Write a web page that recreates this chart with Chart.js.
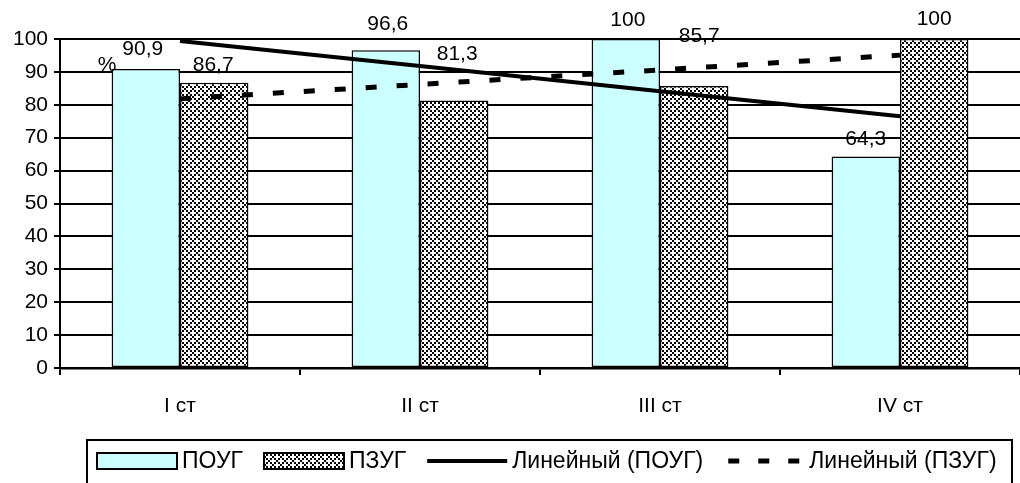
<!DOCTYPE html>
<html>
<head>
<meta charset="utf-8">
<script src="https://cdn.jsdelivr.net/npm/chart.js@4.4.0/dist/chart.umd.min.js"></script>
<style>
html,body{margin:0;padding:0;background:#fff;}
#wrap{width:1020px;height:483px;position:relative;}
</style>
</head>
<body>
<div id="wrap"><canvas id="c" width="1020" height="483"></canvas></div>
<script>
const categories = ["I ст", "II ст", "III ст", "IV ст"];
const seriesNames = ["ПОУГ", "ПЗУГ", "Линейный (ПОУГ)", "Линейный (ПЗУГ)"];
const pougValues = [90.9, 96.6, 100, 64.3];
const pzugValues = [86.7, 81.3, 85.7, 100];
const pougTrend = [99.4, 91.8, 84.1, 76.5];
const pzugTrend = [81.8, 86.2, 90.6, 95.1];
const pougLabels = ["90,9", "96,6", "100", "64,3"];
const pzugLabels = ["86,7", "81,3", "85,7", "100"];
const yTicks = [0, 10, 20, 30, 40, 50, 60, 70, 80, 90, 100];
// label nudges (px above bar top / horizontal shift)
const pougLabelLift = [20, 26, 19, 17];
const pzugLabelLift = [18, 46, 50, 20];
const pougLabelShift = [-3, 2, 2, 0];
const pzugLabelShift = [-1, 3, 5, 0];

const FONT = "'Liberation Sans', Arial, sans-serif";
const FS = 21;
const LFS = 23;

function makePattern() {
  const p = document.createElement('canvas');
  p.width = 8; p.height = 8;
  const g = p.getContext('2d');
  g.fillStyle = '#fff';
  g.fillRect(0, 0, 8, 8);
  g.fillStyle = '#000';
  for (let cy = 0; cy < 4; cy++) {
    for (let cx = 0; cx < 4; cx++) {
      if ((cx + cy) % 4 === 0 || ((cx - cy) % 4 + 4) % 4 === 0) {
        g.fillRect(cx * 2, cy * 2, 2, 2);
      }
    }
  }
  return g.createPattern(p, 'repeat');
}
const checker = makePattern();

const labelPlugin = {
  id: 'labels',
  afterDatasetsDraw(chart) {
    const ctx = chart.ctx;
    ctx.save();
    ctx.font = FS + 'px ' + FONT;
    ctx.fillStyle = '#000';
    ctx.textAlign = 'center';
    ctx.textBaseline = 'middle';
    const m0 = chart.getDatasetMeta(0), m1 = chart.getDatasetMeta(1);
    m0.data.forEach((el, i) => {
      ctx.fillText(pougLabels[i], el.x + pougLabelShift[i], el.y - pougLabelLift[i]);
    });
    m1.data.forEach((el, i) => {
      ctx.fillText(pzugLabels[i], el.x + pzugLabelShift[i], el.y - pzugLabelLift[i]);
    });
    const ys = chart.scales.y;
    ctx.fillText('%', chart.chartArea.left + 47, ys.getPixelForValue(92));
    ctx.restore();
  },
  afterDraw(chart) {
    const ctx = chart.ctx;
    ctx.save();
    ctx.strokeStyle = '#000';
    ctx.lineWidth = 2;
    ctx.beginPath();
    ctx.moveTo(87, 490);
    ctx.lineTo(87, 440);
    ctx.lineTo(1012, 440);
    ctx.lineTo(1012, 490);
    ctx.stroke();
    const yc = 461;
    ctx.font = LFS + 'px ' + FONT;
    ctx.textBaseline = 'middle';
    ctx.textAlign = 'left';
    const SW = 80, TG = 5, IG = 21;
    let x = 97;
    ctx.fillStyle = '#CCFFFF';
    ctx.fillRect(x, 453, SW, 16);
    ctx.lineWidth = 2;
    ctx.strokeRect(x, 453, SW, 16);
    ctx.fillStyle = '#000';
    ctx.fillText(seriesNames[0], x + SW + TG, yc + 1);
    x += SW + TG + ctx.measureText(seriesNames[0]).width + IG;
    ctx.fillStyle = checker;
    ctx.fillRect(x, 453, SW, 16);
    ctx.strokeRect(x, 453, SW, 16);
    ctx.fillStyle = '#000';
    ctx.fillText(seriesNames[1], x + SW + TG, yc + 1);
    x += SW + TG + ctx.measureText(seriesNames[1]).width + IG;
    ctx.lineWidth = 4;
    ctx.beginPath();
    ctx.moveTo(x, yc); ctx.lineTo(x + SW, yc);
    ctx.stroke();
    ctx.fillText(seriesNames[2], x + SW + TG, yc + 1);
    x += SW + TG + ctx.measureText(seriesNames[2]).width + IG;
    ctx.fillRect(x + 4, yc - 2.5, 11, 5);
    ctx.fillRect(x + 34, yc - 2.5, 11, 5);
    ctx.fillRect(x + 64, yc - 2.5, 11, 5);
    ctx.fillText(seriesNames[3], x + SW + TG, yc + 1);
    ctx.restore();
  }
};

new Chart(document.getElementById('c'), {
  data: {
    labels: categories,
    datasets: [
      { type: 'bar', label: seriesNames[0], data: pougValues, backgroundColor: '#CCFFFF',
        borderColor: '#000', borderWidth: 1.5, borderSkipped: false, order: 2 },
      { type: 'bar', label: seriesNames[1], data: pzugValues, backgroundColor: checker,
        borderColor: '#000', borderWidth: 1.5, borderSkipped: false, order: 2 },
      { type: 'line', label: seriesNames[2], data: pougTrend, borderColor: '#000', borderWidth: 4,
        pointRadius: 0, tension: 0, fill: false, order: 0 },
      { type: 'line', label: seriesNames[3], data: pzugTrend, borderColor: '#000', borderWidth: 5,
        borderDash: [11, 20], borderCapStyle: 'butt', pointRadius: 0, tension: 0, fill: false, order: 0 }
    ]
  },
  options: {
    responsive: false,
    animation: false,
    events: [],
    layout: { padding: { top: 39, left: 0, right: -11, bottom: 65 } },
    datasets: { bar: { categoryPercentage: 0.57, barPercentage: 1 } },
    plugins: { legend: { display: false }, tooltip: { enabled: false } },
    scales: {
      x: {
        offset: true,
        grid: { display: true, drawOnChartArea: false, drawTicks: true, tickLength: 7, color: '#000', lineWidth: 2, offset: true },
        border: { display: true, color: '#000', width: 2.5 },
        ticks: { color: '#000', font: { family: FONT, size: FS }, padding: 19, maxRotation: 0 },
        afterFit(s) { s.height = 50; }
      },
      y: {
        min: 0, max: 100,
        afterBuildTicks(s) { s.ticks = yTicks.map(v => ({ value: v })); },
        grid: { color: '#000', lineWidth: 2, tickLength: 6 },
        border: { display: true, color: '#000', width: 2 },
        ticks: { color: '#000', font: { family: FONT, size: FS }, padding: 6 },
        afterFit(s) { s.width = 60; }
      }
    }
  },
  plugins: [labelPlugin]
});
</script>
</body>
</html>
